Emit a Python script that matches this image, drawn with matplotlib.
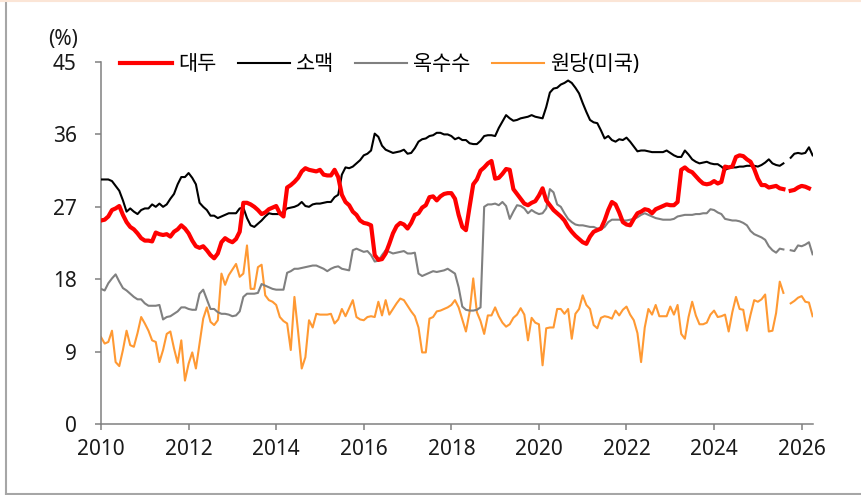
import numpy as np
import pandas as pd
import matplotlib
matplotlib.use("Agg")
import matplotlib.pyplot as plt
from matplotlib.lines import Line2D

plt.rcParams["font.family"] = ["Noto Sans", "Noto Sans CJK KR", "DejaVu Sans"]

nan = np.nan

# monthly series, 2010-01 .. 2026-04 (unit: %)
months = pd.date_range("2010-01-01", periods=196, freq="MS")

soybean = [
    25.3, 25.4, 25.8, 26.6, 26.8, 27.1, 26.0, 25.1, 24.5, 24.2, 23.7, 23.1, 22.8, 22.8, 22.7, 23.8, 23.6,
    23.5, 23.6, 23.3, 23.9, 24.2, 24.7, 24.3, 23.7, 22.8, 22.1, 21.9, 22.1, 21.6, 21.0, 20.6, 21.2,
    22.6, 23.1, 22.8, 22.6, 23.0, 23.9, 27.5, 27.5, 27.3, 27.0, 26.6, 26.1, 26.3, 26.7, 26.9, 27.1, 26.2,
    25.8, 29.4, 29.7, 30.1, 30.6, 31.4, 31.8, 31.6, 31.5, 31.4, 31.6, 31.0, 30.9, 30.9, 31.6, 30.7,
    28.5, 27.6, 27.2, 26.4, 26.0, 25.3, 25.0, 24.9, 24.7, 21.0, 20.4, 20.5, 21.2, 22.4, 23.7, 24.6, 25.0,
    24.8, 24.3, 25.0, 26.0, 26.2, 26.9, 27.2, 28.2, 28.3, 27.8, 28.3, 28.6, 28.7, 28.7, 28.0, 26.0,
    24.5, 24.1, 27.0, 29.8, 30.4, 31.5, 31.9, 32.4, 32.7, 30.5, 30.6, 31.1, 31.7, 31.6, 29.2, 28.6, 28.0,
    27.4, 27.2, 27.5, 27.7, 28.4, 29.3, 27.8, 27.2, 26.6, 26.2, 25.8, 25.3, 24.5, 23.9, 23.4, 23.0,
    22.6, 22.4, 23.3, 23.9, 24.1, 24.3, 25.3, 26.6, 27.6, 27.3, 26.3, 25.1, 24.8, 24.7, 25.5, 26.2, 26.4,
    26.7, 26.6, 26.2, 26.7, 26.9, 27.1, 27.3, 27.2, 27.2, 27.6, 31.6, 31.9, 31.5, 31.3, 30.8, 30.3,
    29.9, 29.8, 29.9, 30.2, 29.9, 30.1, 32.0, 31.9, 32.0, 33.2, 33.4, 33.3, 32.9, 32.6, 31.7, 30.5,
    29.7, 29.7, 29.4, 29.5, 29.6, 29.3, 29.2, nan, 29.0, 29.1, 29.4, 29.6, 29.5, 29.3, nan,
]

wheat = [
    30.4, 30.4, 30.4, 30.2, 29.6, 29.0, 27.8, 26.4, 26.8, 26.4, 26.1, 26.6, 26.8, 26.8, 27.3, 27.0, 27.4,
    27.0, 27.3, 28.0, 28.6, 29.8, 30.7, 30.7, 31.2, 30.6, 29.8, 27.5, 27.0, 26.6, 25.9, 25.9, 25.6,
    25.8, 26.0, 26.2, 26.2, 26.2, 26.8, 26.9, 25.6, 24.7, 24.5, 24.9, 25.3, 25.8, 26.2, 26.1, 26.1, 26.1,
    26.4, 26.8, 26.9, 27.0, 27.2, 27.6, 27.1, 27.0, 27.3, 27.4, 27.4, 27.5, 27.6, 27.6, 28.2, 28.5,
    31.0, 31.9, 31.8, 32.0, 32.4, 32.8, 33.4, 33.6, 34.0, 36.1, 35.7, 34.6, 34.1, 33.9, 33.7, 33.8, 33.9,
    34.1, 33.6, 33.7, 34.3, 35.1, 35.4, 35.5, 35.8, 35.9, 36.2, 36.2, 36.0, 36.0, 35.8, 35.4, 35.6,
    35.3, 35.3, 34.9, 34.8, 34.8, 35.2, 35.8, 35.9, 35.9, 35.8, 36.8, 37.6, 38.4, 38.0, 37.7, 37.8, 38.0,
    38.1, 38.2, 38.4, 38.2, 38.1, 38.0, 39.4, 41.2, 41.7, 41.8, 42.2, 42.4, 42.7, 42.4, 41.8, 41.1,
    39.9, 38.8, 37.8, 37.5, 37.4, 36.5, 35.5, 35.8, 35.3, 35.1, 35.4, 35.3, 35.6, 35.1, 34.5, 33.9, 34.0,
    34.0, 33.9, 33.8, 33.8, 33.8, 33.8, 34.0, 33.7, 33.4, 33.2, 33.2, 34.0, 33.5, 32.9, 32.6, 32.4,
    32.5, 32.6, 32.4, 32.3, 32.3, 32.0, 31.6, 31.8, 31.9, 31.9, 32.0, 32.0, 32.1, 32.1, 32.1, 32.0,
    32.2, 32.5, 32.9, 32.4, 32.2, 32.1, 32.4, nan, 33.1, 33.6, 33.7, 33.6, 33.7, 34.4, 33.4,
]

corn = [
    16.8, 16.6, 17.5, 18.1, 18.6, 17.7, 16.9, 16.6, 16.2, 15.8, 15.5, 15.5, 15.0, 14.7, 14.7, 14.7, 14.8,
    13.0, 13.3, 13.4, 13.7, 14.0, 14.5, 14.5, 14.3, 14.2, 14.2, 16.2, 16.7, 15.5, 14.3, 14.3, 13.9,
    13.7, 13.7, 13.6, 13.4, 13.5, 14.0, 15.8, 16.2, 16.2, 16.2, 16.3, 17.4, 17.2, 17.0, 16.8, 16.7, 16.7,
    16.7, 18.8, 19.0, 19.3, 19.3, 19.4, 19.5, 19.6, 19.7, 19.7, 19.5, 19.3, 19.0, 19.3, 19.5, 19.6,
    19.3, 19.2, 19.1, 21.6, 21.8, 21.6, 21.4, 21.5, 21.0, 20.2, 20.3, 21.0, 21.6, 21.4, 21.2, 21.3, 21.4,
    21.5, 21.2, 21.2, 21.3, 18.7, 18.4, 18.6, 18.8, 19.0, 18.9, 19.0, 19.1, 19.3, 19.0, 18.7, 17.0,
    14.6, 14.2, 14.1, 14.1, 14.2, 14.5, 27.0, 27.3, 27.3, 27.4, 27.2, 27.6, 27.1, 25.5, 26.4, 27.2, 27.1,
    26.8, 26.2, 26.6, 26.3, 26.1, 26.2, 26.8, 29.2, 28.8, 27.3, 27.0, 26.2, 25.5, 25.1, 24.8, 24.7,
    24.7, 24.6, 24.5, 24.5, 24.3, 24.2, 24.5, 25.1, 25.4, 25.4, 25.4, 25.3, 25.3, 25.4, 25.5, 25.7, 26.0,
    26.2, 26.0, 25.8, 25.6, 25.5, 25.4, 25.4, 25.4, 25.5, 25.8, 25.9, 26.0, 26.0, 26.0, 26.1, 26.1,
    26.2, 26.2, 26.7, 26.6, 26.3, 26.1, 25.5, 25.4, 25.3, 25.3, 25.2, 25.0, 24.7, 24.0, 23.6, 23.4,
    23.2, 22.9, 22.1, 21.6, 21.3, 21.8, 21.7, nan, 21.6, 21.5, 22.2, 22.1, 22.3, 22.6, 21.1,
]

sugar = [
    10.8, 10.0, 10.2, 11.6, 7.7, 7.2, 9.2, 11.6, 9.8, 9.6, 11.3, 13.3, 12.5, 11.6, 10.4, 10.2, 7.7,
    9.2, 11.2, 11.5, 9.4, 7.6, 10.4, 5.4, 7.5, 8.9, 6.9, 10.0, 13.1, 14.5, 12.7, 12.3, 12.9,
    18.7, 17.3, 18.5, 19.2, 19.9, 18.3, 18.7, 22.2, 16.8, 16.8, 19.5, 19.8, 16.0, 15.4, 15.2, 14.8, 13.3,
    12.8, 12.5, 9.2, 15.8, 11.5, 6.9, 8.3, 12.9, 12.0, 13.7, 13.6, 13.6, 13.6, 13.7, 12.5, 13.0,
    14.3, 13.4, 14.4, 15.4, 13.3, 13.0, 12.9, 13.3, 13.4, 13.3, 15.2, 13.5, 15.4, 13.6, 14.3, 15.0, 15.6,
    15.4, 14.7, 14.0, 13.4, 12.0, 8.9, 8.9, 13.1, 13.3, 14.0, 14.1, 14.3, 14.5, 14.8, 15.4, 14.5,
    13.0, 11.5, 13.9, 18.1, 13.9, 12.8, 11.2, 13.5, 13.5, 14.5, 13.4, 12.6, 12.1, 12.4, 13.2, 13.6, 14.4,
    13.6, 10.4, 13.2, 12.6, 12.4, 7.3, 11.9, 12.0, 12.0, 14.3, 14.3, 13.7, 14.3, 10.6, 13.7, 14.3,
    16.0, 14.8, 14.3, 12.3, 11.9, 13.2, 13.4, 13.3, 13.1, 14.1, 13.5, 14.2, 14.6, 13.6, 12.9, 11.3, 7.7,
    12.0, 14.3, 13.6, 14.8, 13.4, 13.4, 13.4, 14.6, 13.6, 14.8, 11.2, 10.6, 13.3, 15.2, 13.5, 12.4,
    12.4, 12.6, 13.6, 14.1, 13.3, 13.4, 13.6, 11.5, 13.9, 15.8, 14.3, 14.2, 11.6, 13.6, 15.4, 15.2,
    15.5, 16.1, 11.5, 11.6, 13.8, 17.7, 16.3, nan, 15.0, 15.3, 15.7, 15.9, 15.2, 15.1, 13.4,
]

labels = ["대두", "소맥", "옥수수", "원당(미국)"]
colors = ["#FF0000", "#000000", "#808080", "#FF9933"]
widths = [3.0, 1.5, 1.5, 1.5]
year_ticks = list(range(2010, 2027, 2))
value_ticks = [0, 9, 18, 27, 36, 45]

x = months.year + (months.month - 1) / 12.0

fig = plt.figure(figsize=(8.62, 4.95), dpi=100)
ax = fig.add_axes([0.1172, 0.1434, 0.826, 0.7313])

series = [soybean, wheat, corn, sugar]
handles = []
for vals, lab, col, lw, z in zip(series, labels, colors, widths, [4, 3, 2, 1]):
    ln, = ax.plot(x, vals, color=col, linewidth=lw, label=lab, zorder=z,
                  solid_joinstyle="round")
    handles.append(ln)

ax.set_xlim(2010, 2026.26)
ax.set_ylim(0, 45)
ax.set_xticks(year_ticks)
ax.set_xticklabels([str(y) for y in year_ticks])
ax.set_yticks(value_ticks)

for side in ["top", "right"]:
    ax.spines[side].set_visible(False)
for side in ["left", "bottom"]:
    ax.spines[side].set_color("#808080")
    ax.spines[side].set_linewidth(1.1)
ax.tick_params(axis="both", colors="#808080", labelcolor="#1a1a1a",
               labelsize=15, length=4.5, width=1.1, direction="out")
ax.tick_params(axis="y", pad=13)
ax.tick_params(axis="x", pad=6)

ax.legend(handles=handles, loc="center left", bbox_to_anchor=(0.027, 0.992),
          ncol=4, frameon=False, fontsize=15, borderpad=0, borderaxespad=0,
          handlelength=2.5, handletextpad=0.3, columnspacing=1.0)

fig.text(48 / 862, 1 - 39 / 495, "(%)", fontsize=15, color="#1a1a1a",
         ha="left", va="center")

# outer frame: gray left/bottom rule, light peach top rule
fig.add_artist(Line2D([6.5 / 862, 6.5 / 862], [1 - 494 / 495, 1], transform=fig.transFigure,
                      color="#A6A6A6", linewidth=1.5))
fig.add_artist(Line2D([6.5 / 862, 1], [1 - 494 / 495, 1 - 494 / 495], transform=fig.transFigure,
                      color="#A6A6A6", linewidth=1.5))
fig.add_artist(Line2D([0, 1], [1 - 0.7 / 495, 1 - 0.7 / 495], transform=fig.transFigure,
                      color="#FBE5D6", linewidth=1.5))

fig.savefig("out.png", dpi=100)
plt.close(fig)
